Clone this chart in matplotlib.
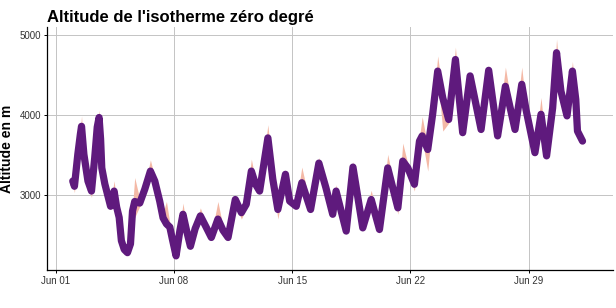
import matplotlib
matplotlib.use("Agg")
import matplotlib.pyplot as plt
import matplotlib.dates as mdates
import pandas as pd

plt.rcParams['font.family'] = ['Liberation Sans', 'DejaVu Sans']

# days after Jun 01 00:00
days = [1.0, 1.1, 1.3, 1.45, 1.52, 1.66, 1.9, 2.11, 2.3, 2.45,
        2.56, 2.65, 2.72, 2.9, 3.24, 3.45, 3.6, 3.75, 3.88, 4.05,
        4.24, 4.42, 4.54, 4.67, 4.97, 5.27, 5.6, 5.86, 6.15, 6.35,
        6.55, 6.75, 6.9, 7.12, 7.35, 7.53, 7.75, 7.97, 8.25, 8.56,
        8.9, 9.21, 9.6, 9.9, 10.2, 10.63, 10.99, 11.28, 11.58, 11.83,
        12.07, 12.56, 12.85, 13.15, 13.6, 13.85, 14.24, 14.57, 15.09, 15.58,
        16.0, 16.4, 16.6, 17.2, 17.6, 18.18, 18.68, 19.17, 19.66, 20.26,
        20.55, 20.85, 21.24, 21.54, 21.7, 22.03, 22.32, 22.62, 22.92, 23.27,
        23.67, 24.1, 24.54, 25.19, 25.64, 26.17, 26.63, 27.2, 27.6, 27.85,
        28.38, 28.74, 29.07, 29.43, 29.66, 29.92, 30.28, 30.6, 30.8, 30.9,
        31.2]

# altitude of the 0 degree isotherm (m)
alt = [3175, 3110, 3510, 3760, 3860, 3510, 3175, 3050, 3465, 3850,
       3970, 3700, 3340, 3140, 2860, 3050, 2850, 2720, 2430, 2320,
       2280, 2390, 2800, 2920, 2900, 3075, 3300, 3175, 2925, 2715,
       2640, 2600, 2450, 2240, 2560, 2760, 2550, 2360, 2580, 2740,
       2600, 2470, 2700, 2560, 2470, 2945, 2780, 2885, 3300, 3135,
       3050, 3715, 3200, 2820, 3260, 2925, 2860, 3155, 2820, 3400,
       3090, 2760, 3050, 2550, 3350, 2590, 2945, 2570, 3340, 2840,
       3425, 3340, 3135, 3675, 3740, 3570, 4010, 4550, 4215, 3945,
       4695, 3780, 4490, 3820, 4560, 3740, 4360, 3820, 4385, 4070,
       3530, 4010, 3490, 4090, 4780, 4300, 3990, 4550, 4195, 3800,
       3675]

alt_max = [3215, 3150, 3560, 3820, 3990, 3560, 3215, 3090, 3510, 3900,
           4060, 3750, 3380, 3180, 2900, 3180, 2890, 2760, 2470, 2360,
           2320, 2430, 2850, 3220, 2950, 3120, 3440, 3220, 2970, 2780,
           2920, 2650, 2490, 2280, 2600, 2900, 2590, 2400, 2620, 2840,
           2640, 2510, 2920, 2600, 2510, 2990, 2820, 2930, 3450, 3180,
           3090, 3880, 3240, 2860, 3310, 2970, 2900, 3350, 2860, 3470,
           3130, 2800, 3130, 2590, 3420, 2630, 3060, 2610, 3510, 2880,
           3650, 3390, 3180, 3720, 3980, 3610, 4060, 4740, 4260, 3990,
           4850, 3820, 4540, 3860, 4620, 3780, 4600, 3860, 4600, 4110,
           3570, 4220, 3530, 4130, 4950, 4340, 4030, 4670, 4240, 3840,
           3715]

alt_min = [3135, 3030, 3460, 3710, 3810, 3460, 3135, 2970, 3420, 3800,
           3920, 3650, 3300, 3100, 2820, 3010, 2810, 2680, 2390, 2280,
           2240, 2350, 2700, 2720, 2860, 3030, 3250, 3130, 2880, 2670,
           2600, 2500, 2410, 2200, 2500, 2720, 2510, 2320, 2530, 2700,
           2560, 2430, 2660, 2520, 2430, 2900, 2700, 2840, 3250, 3090,
           3010, 3670, 3150, 2700, 3220, 2880, 2820, 3110, 2780, 3360,
           3050, 2720, 3010, 2510, 3300, 2550, 2900, 2520, 3300, 2760,
           3380, 3300, 3050, 3630, 3700, 3300, 3960, 4500, 3800, 3900,
           4650, 3740, 4440, 3780, 4510, 3700, 4320, 3780, 4340, 4030,
           3490, 3970, 3450, 4050, 4740, 4260, 3950, 4510, 4150, 3760,
           3640]

start = pd.Timestamp("2023-06-01")
x = start + pd.to_timedelta(days, unit="D")

fig = plt.figure(figsize=(6.16, 3.08), dpi=100)
ax = fig.add_axes([0.077, 0.123, 0.918, 0.789])

# min/max ribbon, then the mean line on top
ax.fill_between(x, alt_min, alt_max, color="#f4b9a6", linewidth=0)
ax.plot(x, alt, color="#5f1a7d", linewidth=5.2,
        solid_joinstyle="round", solid_capstyle="round")

ax.set_xlim(start - pd.Timedelta(days=0.5), start + pd.Timedelta(days=33))
ax.set_ylim(2062, 5100)
ax.set_yticks([3000, 4000, 5000])
ax.set_xticks(pd.date_range("2023-06-01", periods=5, freq="7D"))
ax.xaxis.set_major_formatter(mdates.DateFormatter("%b %d"))

ax.grid(True, color="#c4c4c4", linewidth=0.7)
ax.set_axisbelow(True)
for s in ["top", "right"]:
    ax.spines[s].set_visible(False)
for s in ["left", "bottom"]:
    ax.spines[s].set_linewidth(0.9)
ax.tick_params(length=2.5, width=0.7, labelsize=7, labelcolor="#333333", pad=2)

ax.set_ylabel("Altitude en m", fontsize=10, fontweight="bold", labelpad=4)
ax.set_title("Altitude de l'isotherme zéro degré", loc="left",
             fontsize=12, fontweight="bold", pad=4)

fig.savefig("out.png", dpi=100)
